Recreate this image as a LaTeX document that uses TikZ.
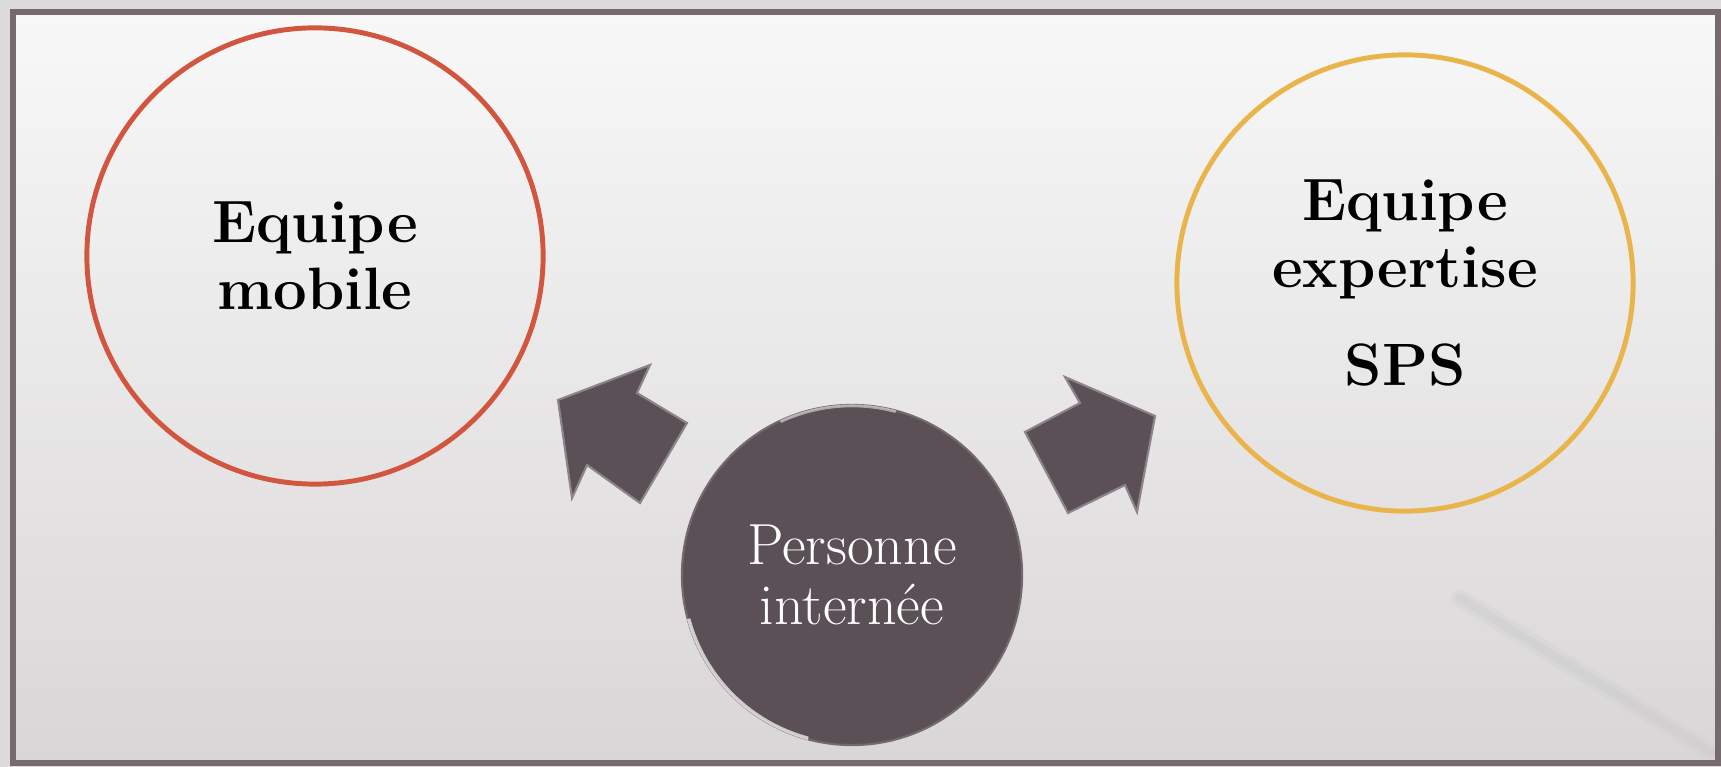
\documentclass[tikz,border=0pt]{standalone}
\usepackage{tikz}
\definecolor{framegray}{HTML}{766A6F}
\definecolor{bgtop}{HTML}{F8F8F8}
\definecolor{bgbot}{HTML}{D9D6D7}
\definecolor{mobred}{HTML}{D2553F}
\definecolor{spsyel}{HTML}{E9B54B}
\definecolor{darkplum}{HTML}{5B5055}
\tikzset{
  team/.style={circle, line width=1.4pt, minimum size=4.56cm, inner sep=0pt,
    align=center, font=\fontsize{17}{19}\selectfont\bfseries},
  blockarrow/.style={fill=darkplum, draw=darkplum!70!white, line width=.6pt, line join=miter}
}
\begin{document}
\begin{tikzpicture}[x=0.01cm, y=0.01cm]
  \useasboundingbox (0,0) rectangle (1721,767);
  \draw[framegray!25, line width=8pt] (13,4) rectangle (1718,755);
  \shade[top color=bgtop, bottom color=bgbot] (13,4) rectangle (1718,755);
  \draw[black!20, line width=5pt, line cap=round, opacity=.25] (1460,169) -- (1712,14);
  \draw[black!20, line width=2.5pt, line cap=round, opacity=.4] (1460,169) -- (1712,14);
  \draw[framegray, line width=1.7pt] (13,4) rectangle (1718,755);

  \node[team, draw=mobred] (mobile) at (315,511) {Equipe\\mobile};
  \node[team, draw=spsyel] (sps) at (1405,484) {Equipe\\expertise\\[9pt]SPS};
  \node[circle, fill=darkplum, draw=darkplum!85!white, line width=.6pt,
    minimum size=3.40cm, inner sep=0pt, align=center, text=white,
    font=\fontsize{16.5}{17}\selectfont] (interne) at (852,192) {Personne\\intern\'ee};
  \draw[white, opacity=.7, line width=1pt] ([shift={(195:1.69cm)}]interne.center)
    arc[start angle=195, end angle=255, radius=1.69cm];
  \draw[white, opacity=.5, line width=.8pt] ([shift={(75:1.69cm)}]interne.center)
    arc[start angle=75, end angle=115, radius=1.69cm];

  \draw[blockarrow] (558,367) -- (650,402) -- (637,374) -- (687,344) -- (640,264)
    -- (587,302) -- (572,269) -- cycle;
  \draw[blockarrow] (1155,351) -- (1065,390) -- (1080,364) -- (1025,335) -- (1068,254)
    -- (1125,282) -- (1137,255) -- cycle;
\end{tikzpicture}
\end{document}
